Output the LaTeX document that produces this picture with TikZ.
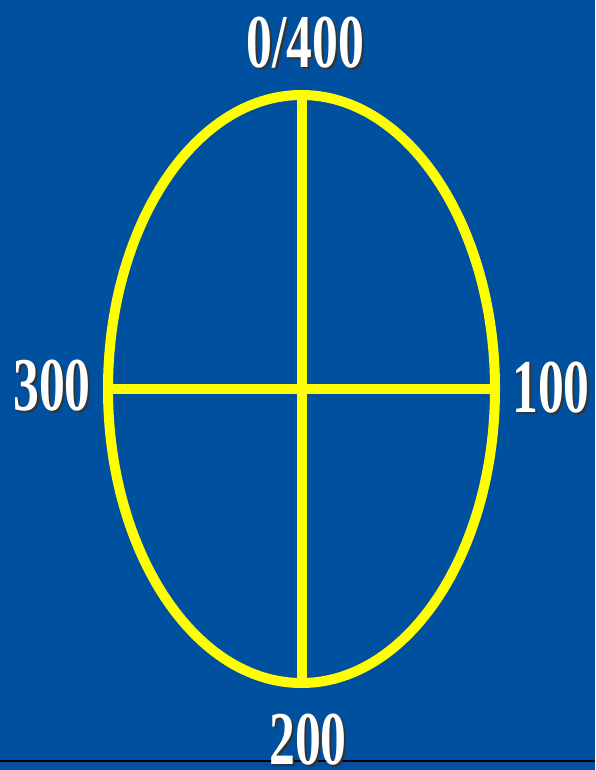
\documentclass[tikz,border=0pt]{standalone}
\usepackage{fontspec}
\setmainfont{Liberation Serif}
\usetikzlibrary{shapes.geometric}
\definecolor{bgblue}{RGB}{0,80,160}
\definecolor{ringyellow}{RGB}{255,255,0}
\tikzset{
  ring/.style={draw=ringyellow, line width=10pt},
  bar/.style={draw=ringyellow, line width=10pt},
  lab/.style={text=white, font=\bfseries\fontsize{76}{76}\selectfont, xscale=0.68, inner sep=0pt},
  labshadow/.style={text=black!80, font=\bfseries\fontsize{76}{76}\selectfont, xscale=0.68, inner sep=0pt}
}
\begin{document}
\begin{tikzpicture}[x=1pt,y=-1pt]
\fill[bgblue] (0,0) rectangle (595,770);
\useasboundingbox (0,0) rectangle (595,770);
\coordinate (c) at (301.5,389);
\coordinate (top) at (301.5,95);
\coordinate (bot) at (301.5,683);
\coordinate (lft) at (108,389);
\coordinate (rgt) at (495,389);
\draw[bar] (top) -- (bot);
\draw[bar] (lft) -- (rgt);
\draw[ring] (c) ellipse [x radius=193.5, y radius=294];
\coordinate (bl) at (0,761);
\coordinate (br) at (595,761);
\draw[black, line width=2pt] (bl) -- (br);
% labels with shadow
\node[labshadow] at (307.5,44.5) {0/400};
\node[lab] (l0) at (305.5,42.5) {0/400};
\node[labshadow] at (54,387.5) {300};
\node[lab] (l300) at (52,385.5) {300};
\node[labshadow] at (553,389.5) {100};
\node[lab] (l100) at (551,387.5) {100};
\node[labshadow] at (310,742) {200};
\node[lab] (l200) at (308,740) {200};
\end{tikzpicture}
\end{document}
